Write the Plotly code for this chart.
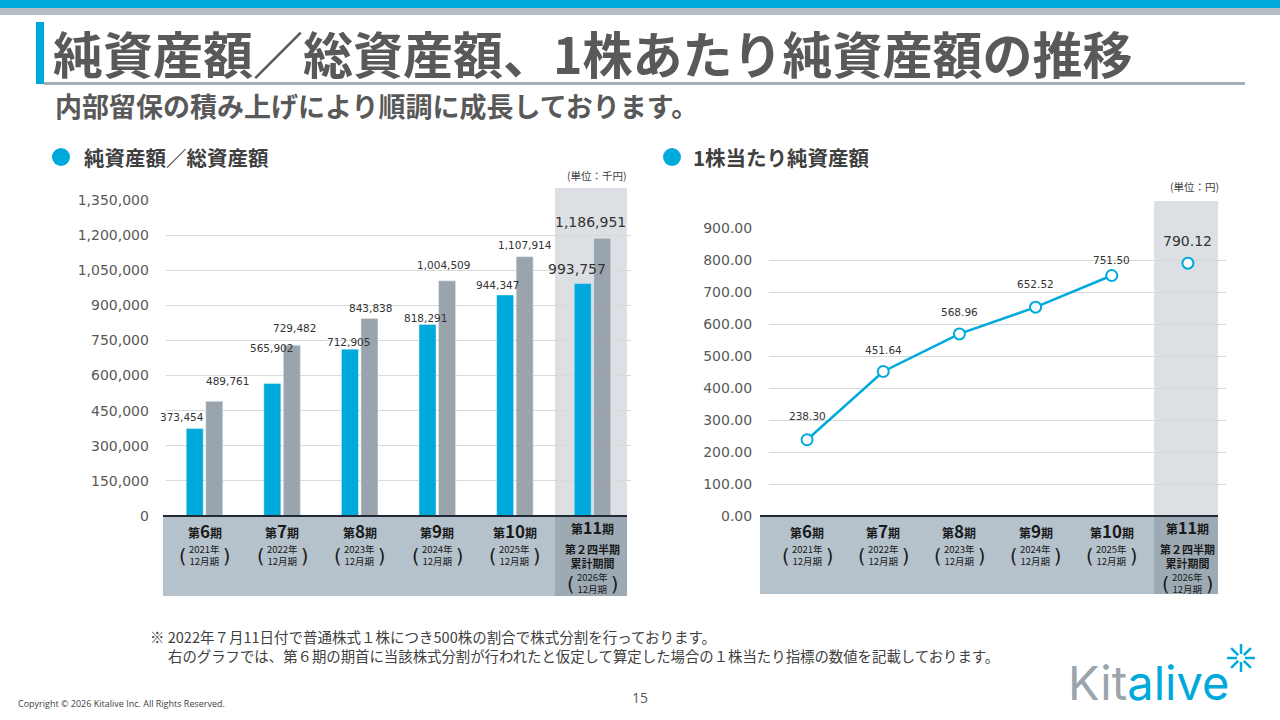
import math
import plotly.graph_objects as go

# ---- data ----
categories = ["第6期", "第7期", "第8期", "第9期", "第10期", "第11期"]
period_nums = ["6", "7", "8", "9", "10", "11"]
fiscal_years = ["2021年", "2022年", "2023年", "2024年", "2025年", "2026年"]
net_assets = [373454, 565902, 712905, 818291, 944347, 993757]       # 千円
total_assets = [489761, 729482, 843838, 1004509, 1107914, 1186951]  # 千円
bps = [238.30, 451.64, 568.96, 652.52, 751.50, 790.12]              # 円

# label nudges (px) so values sit like in the slide
blue_dx = [-12, 0, 0, -1, -6, -5]
blue_dy = [12, 36, 7, 6, 10, 14]
gray_dx = [12, 1, 0, -5, -1, -13]
gray_dy = [20, 17, 10, 16, 12, 16]
bps_dy = [24, 21, 22, 23, 16, 22]

BLUE = "#00A9DB"
GRAY = "#9AA4AC"
BAND = "#B5C1CB"
BAND_DARK = "#9DAAB4"
HILITE = "#DCE0E4"
TXT = "#595959"
DARK = "#1A1A1A"
JP = "Noto Sans CJK JP"
NUM = "DejaVu Sans"


def px(x):
    return x / 1280


def py(y):
    return 1 - y / 720


fig = go.Figure()

# left chart: bars
fig.add_trace(go.Bar(x=categories, y=net_assets, marker_color=BLUE,
                     xaxis="x", yaxis="y", hoverinfo="skip"))
fig.add_trace(go.Bar(x=categories, y=total_assets, marker_color=GRAY,
                     xaxis="x", yaxis="y", hoverinfo="skip"))

# right chart: line (6th-10th) plus lone 11th point
fig.add_trace(go.Scatter(x=categories[:5], y=bps[:5], mode="lines+markers",
                         line=dict(color=BLUE, width=2.5),
                         marker=dict(size=11, color="white", line=dict(color=BLUE, width=2)),
                         xaxis="x2", yaxis="y2", hoverinfo="skip"))
fig.add_trace(go.Scatter(x=categories[5:], y=bps[5:], mode="markers",
                         marker=dict(size=11, color="white", line=dict(color=BLUE, width=2)),
                         xaxis="x2", yaxis="y2", hoverinfo="skip"))

shapes = []


def rect(x0, y0, x1, y1, color, layer="below"):
    shapes.append(dict(type="rect", xref="paper", yref="paper",
                       x0=px(x0), x1=px(x1), y0=py(y1), y1=py(y0),
                       fillcolor=color, line=dict(width=0), layer=layer))


def seg(x0, y0, x1, y1, color, w, layer="above"):
    shapes.append(dict(type="line", xref="paper", yref="paper",
                       x0=px(x0), x1=px(x1), y0=py(y0), y1=py(y1),
                       line=dict(color=color, width=w), layer=layer))


# header bars
rect(0, 0, 1280, 8, "#00A9DB")
rect(0, 8, 1280, 15, "#B4BEC5")
rect(36, 22, 44, 84, "#00A9DB")
rect(44, 82, 1245, 85, "#A6AFB6")

# left chart backgrounds
rect(555, 188, 627, 516, HILITE)
rect(163, 516, 627, 596, BAND)
rect(555, 516, 627, 596, BAND_DARK)
# right chart backgrounds
rect(1154, 201, 1218, 516, HILITE)
rect(760, 516, 1218, 594, BAND)
rect(1154, 516, 1218, 594, BAND_DARK)

# baselines
seg(163, 516, 627, 516, "#1F2A36", 2)
seg(760, 516, 1218, 516, "#1F2A36", 2)

# section bullets
for cx in [61, 672]:
    shapes.append(dict(type="circle", xref="paper", yref="paper",
                       x0=px(cx - 9), x1=px(cx + 9), y0=py(166), y1=py(148),
                       fillcolor=BLUE, line=dict(width=0)))

# logo asterisk
for k in range(8):
    a = k * math.pi / 4
    seg(1241 + 4 * math.cos(a), 658 + 4 * math.sin(a),
        1241 + 14 * math.cos(a), 658 + 14 * math.sin(a), BLUE, 2.5)

ann = []


def text(x, y, s, size, color=TXT, font=JP, xanchor="left", yanchor="middle"):
    ann.append(dict(x=px(x), y=py(y), xref="paper", yref="paper", text=s,
                    showarrow=False, xanchor=xanchor, yanchor=yanchor,
                    font=dict(family=font, size=size, color=color)))


text(51, 52, "<b>純資産額／総資産額、1株あたり純資産額の推移</b>", 50)
text(53, 105, "<b>内部留保の積み上げにより順調に成長しております。</b>", 27)
text(82, 157, "<b>純資産額／総資産額</b>", 20.5, color="#404040")
text(691, 157, "<b>1株当たり純資産額</b>", 20.5, color="#404040")
text(597, 175, "(単位：千円)", 10.5, color="#404040", xanchor="center")
text(1194, 187, "(単位：円)", 10.5, color="#404040", xanchor="center")
text(148, 636, "※ 2022年７月11日付で普通株式１株につき500株の割合で株式分割を行っております。", 14.5, color="#404040")
text(166, 655, "右のグラフでは、第６期の期首に当該株式分割が行われたと仮定して算定した場合の１株当たり指標の数値を記載しております。",
     14.4, color="#404040")
text(16, 703, "Copyright © 2026 Kitalive Inc. All Rights Reserved.", 9, color="#404040", font="Open Sans")
text(640, 697, "15", 14, color="#595959", font="Open Sans", xanchor="center")
text(1066, 682, "<span style='color:#9AA4AC'>Kit</span><span style='color:#00A9DB'>alive</span>",
     47, font="Inter")

# bar value labels
for i, c in enumerate(categories):
    big = i == len(categories) - 1
    size = 14 if big else 10.5
    for val, xs, ys in [(net_assets[i], -11 + blue_dx[i], blue_dy[i]),
                        (total_assets[i], 11 + gray_dx[i], gray_dy[i])]:
        ann.append(dict(x=c, y=val, xref="x", yref="y", text=f"{val:,}",
                        showarrow=False, xshift=xs, yshift=ys, yanchor="middle",
                        font=dict(family=NUM, size=size, color="#333333")))

# per-share labels
for i, c in enumerate(categories):
    big = i == len(categories) - 1
    ann.append(dict(x=c, y=bps[i], xref="x2", yref="y2", text=f"{bps[i]:.2f}",
                    showarrow=False, yshift=bps_dy[i], yanchor="middle",
                    font=dict(family=NUM, size=14 if big else 10.5, color="#333333")))


def cat_text(xr, c, y, s, size, xshift=0, font=JP):
    ann.append(dict(x=c, y=py(y), xref=xr, yref="paper", showarrow=False,
                    text=s, xshift=xshift, yanchor="middle", xanchor="center",
                    font=dict(family=font, size=size, color=DARK)))


# category labels under both charts
for xr in ["x", "x2"]:
    for i, c in enumerate(categories):
        last = i == len(categories) - 1
        if last:
            cat_text(xr, c, 527, f"<b>第<span style='font-size:16px'>{period_nums[i]}</span>期</b>", 12)
            cat_text(xr, c, 556, "<b>第２四半期<br>累計期間</b>", 11)
            yy = 583
        else:
            cat_text(xr, c, 530, f"<b>第<span style='font-size:17px'>{period_nums[i]}</span>期</b>", 12)
            yy = 555
        cat_text(xr, c, yy, f"{fiscal_years[i]}<br>12月期", 9.5)
        cat_text(xr, c, yy + 1, "(", 19, xshift=-22, font="DejaVu Sans")
        cat_text(xr, c, yy + 1, ")", 19, xshift=22, font="DejaVu Sans")

fig.update_layout(
    width=1280, height=720,
    margin=dict(l=0, r=0, t=0, b=0, autoexpand=False),
    paper_bgcolor="white", plot_bgcolor="rgba(0,0,0,0)",
    showlegend=False,
    barmode="group", bargap=0.497, bargroupgap=0.13,
    shapes=shapes, annotations=ann,
    xaxis=dict(domain=[px(165.7), px(631.3)], anchor="y", type="category",
               range=[-0.5, 5.5], showticklabels=False, showgrid=False,
               zeroline=False, showline=False, ticks=""),
    yaxis=dict(domain=[py(516), py(200)], anchor="x", range=[0, 1350000],
               dtick=150000, tickformat=",", showgrid=True, gridcolor="#D9D9D9",
               gridwidth=1, zeroline=False, ticks="outside", ticklen=13,
               tickcolor="rgba(0,0,0,0)", automargin=False,
               tickfont=dict(family=NUM, size=14, color=TXT)),
    xaxis2=dict(domain=[px(769), px(1226)], anchor="y2", type="category",
                range=[-0.5, 5.5], showticklabels=False, showgrid=False,
                zeroline=False, showline=False, ticks=""),
    yaxis2=dict(domain=[py(516), py(228)], anchor="x2", range=[0, 900],
                dtick=100, tickformat=".2f", showgrid=True, gridcolor="#D9D9D9",
                gridwidth=1, zeroline=False, ticks="outside", ticklen=13,
                tickcolor="rgba(0,0,0,0)", automargin=False,
                tickfont=dict(family=NUM, size=14, color=TXT)),
)

fig.write_html("out.html", config={"displayModeBar": False},
               post_script="document.body.style.margin='0';")
